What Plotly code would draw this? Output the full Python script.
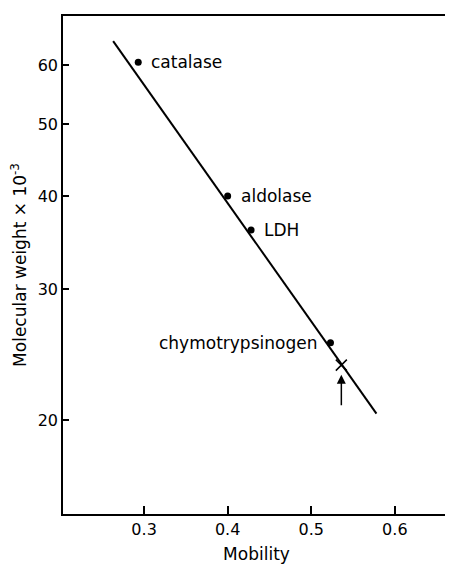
import math
import plotly.graph_objects as go

# Data
proteins = ["catalase", "aldolase", "LDH", "chymotrypsinogen"]
mobility = [0.293, 0.400, 0.428, 0.523]
mol_weight = [60.5, 40.0, 36.0, 25.4]

unknown_mobility = [0.536]
unknown_weight = [23.7]

fit_mobility = [0.263, 0.578]
fit_weight = [64.6, 20.4]

arrow_tail_weight = 20.8
arrow_head_weight = 23.0

x_ticks = [0.3, 0.4, 0.5, 0.6]
x_tick_labels = ["0.3", "0.4", "0.5", "0.6"]
y_ticks = [20, 30, 40, 50, 60]
y_tick_labels = ["20", "30", "40", "50", "60"]

FONT = "DejaVu Sans"
fig = go.Figure()

fig.add_trace(go.Scatter(x=fit_mobility, y=fit_weight, mode="lines",
                         line=dict(color="black", width=2), showlegend=False))
fig.add_trace(go.Scatter(x=mobility, y=mol_weight, mode="markers",
                         marker=dict(color="black", size=7), showlegend=False))
fig.add_trace(go.Scatter(x=unknown_mobility, y=unknown_weight, mode="markers",
                         marker=dict(symbol="x-thin", size=11,
                                     line=dict(color="black", width=1.5)),
                         showlegend=False))

# labels
positions = ["right", "right", "right", "left"]
for name, xv, yv, pos in zip(proteins, mobility, mol_weight, positions):
    fig.add_annotation(x=xv, y=math.log10(yv), text=name, showarrow=False,
                       xanchor="left" if pos == "right" else "right",
                       xshift=11 if pos == "right" else -11,
                       yanchor="middle",
                       font=dict(family=FONT, size=17, color="black"))

# arrow
fig.add_annotation(x=unknown_mobility[0], y=math.log10(arrow_head_weight),
                   ax=unknown_mobility[0], ay=math.log10(arrow_tail_weight),
                   xref="x", yref="y", axref="x", ayref="y",
                   showarrow=True, arrowhead=2, arrowsize=1.2, arrowwidth=1.5,
                   arrowcolor="black", text=" ", font=dict(size=1))

fig.update_layout(
    width=445, height=556,
    margin=dict(l=55, r=3, t=8, b=50),
    paper_bgcolor="white", plot_bgcolor="white",
    font=dict(family=FONT, size=16, color="black"),
    xaxis=dict(range=[0.203, 0.666], tickvals=x_ticks, ticktext=x_tick_labels,
               ticks="inside", ticklen=8, tickwidth=1.5, tickcolor="black",
               showline=True, linecolor="black", linewidth=1.5, mirror=True,
               showgrid=False, zeroline=False, automargin=False,
               tickfont=dict(size=16),
               title=dict(text="Mobility", standoff=10, font=dict(size=17))),
    yaxis=dict(type="log", range=[1.1747, 1.844], tickvals=y_ticks, ticktext=y_tick_labels,
               ticks="inside", ticklen=6, tickwidth=1.5, tickcolor="black",
               showline=True, linecolor="black", linewidth=1.5, mirror=True,
               showgrid=False, zeroline=False, automargin=False,
               tickfont=dict(size=16),
               title=dict(text="Molecular weight × 10<sup>-3</sup>", standoff=10,
                          font=dict(size=17))),
)

fig.write_html("out.html")
